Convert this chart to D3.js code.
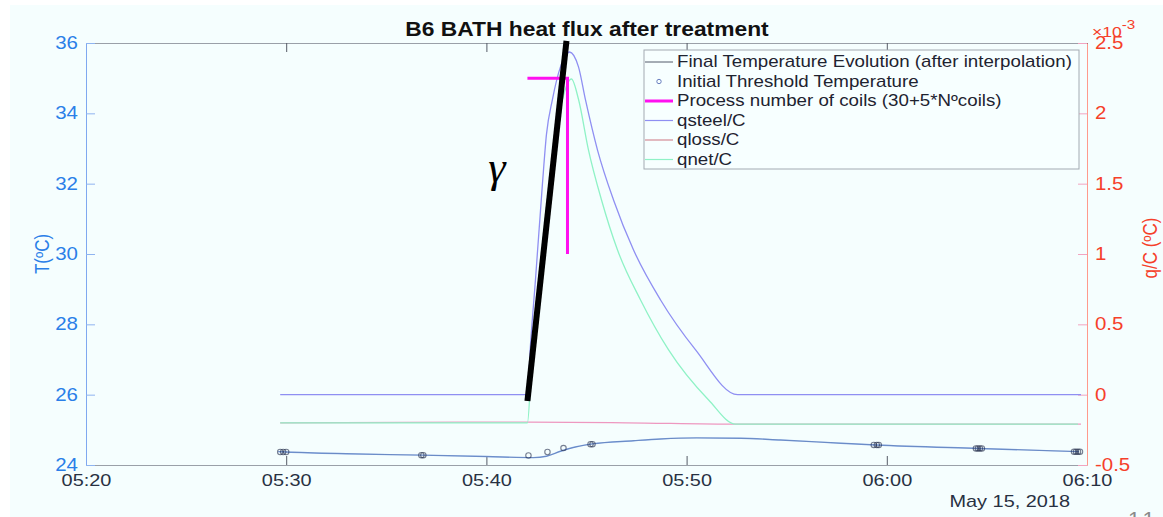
<!DOCTYPE html>
<html>
<head>
<meta charset="utf-8">
<script src="https://cdn.jsdelivr.net/npm/d3@7"></script>
<style>
  html, body { margin: 0; padding: 0; background: #f5fefe; }
  svg { display: block; font-family: "Liberation Sans", Arial, Helvetica, sans-serif; }
</style>
</head>
<body>
<svg id="chart" width="1163" height="517"></svg>
<script>
// ---- data -------------------------------------------------------------
const xTickLabels = ["05:20", "05:30", "05:40", "05:50", "06:00", "06:10"];
const leftTicks = [24, 26, 28, 30, 32, 34, 36];
const rightTicks = [-0.5, 0, 0.5, 1, 1.5, 2, 2.5];
const rightTickLabels = ["-0.5", "0", "0.5", "1", "1.5", "2", "2.5"];

// Final temperature evolution (°C)
const tempTimes = ["05:29:36", "05:30:00", "05:33:00", "05:36:48", "05:40:00", "05:42:21", "05:43:00",
  "05:43:42", "05:44:30", "05:45:18", "05:47:21", "05:48:42", "05:50:30", "05:52:42", "05:54:42",
  "05:57:42", "05:59:27", "06:04:36", "06:09:36"];
const tempValues = [24.38, 24.37, 24.32, 24.28, 24.24, 24.21, 24.25, 24.39, 24.52, 24.6, 24.69,
  24.74, 24.77, 24.76, 24.71, 24.62, 24.57, 24.47, 24.38];

// Initial threshold temperature samples (°C)
const thresholdTimes = ["05:29:42", "05:29:51", "05:30:00", "05:36:45", "05:36:51", "05:42:06",
  "05:43:03", "05:43:51", "05:45:12", "05:45:18", "05:59:21", "05:59:30", "05:59:36",
  "06:04:27", "06:04:33", "06:04:39", "06:04:45", "06:09:21", "06:09:27", "06:09:33", "06:09:39"];
const thresholdValues = [24.37, 24.37, 24.37, 24.28, 24.28, 24.27, 24.37, 24.48, 24.59, 24.59,
  24.57, 24.57, 24.57, 24.47, 24.47, 24.47, 24.47, 24.38, 24.38, 24.38, 24.38];

// Process number of coils (30 + 5*Nºcoils)
const coilTimes = ["05:42:03", "05:44:03", "05:44:03"];
const coilValues = [35, 35, 30];

// Heat flux over heat capacity (x10^-3 °C)
const qsteelTimes = ["05:29:42", "05:42:03", "05:42:12", "05:42:27", "05:42:48", "05:43:00", "05:43:18",
  "05:43:42", "05:44:09", "05:44:36", "05:44:57", "05:45:33", "05:46:21", "05:47:21", "05:48:42",
  "05:50:27", "05:52:33", "06:09:42"];
const qsteelValues = [0, 0, 0.35, 0.815, 1.5, 1.85, 2.1, 2.33, 2.436, 2.33, 2.095, 1.739, 1.384,
  1.028, 0.673, 0.318, 0, 0];

const qlossTimes = ["05:29:42", "05:42:03", "05:47:00", "05:52:33", "06:09:42"];
const qlossValues = [-0.2, -0.195, -0.2, -0.21, -0.21];

const qnetTimes = ["05:29:42", "05:42:03", "05:42:15", "05:42:30", "05:42:48", "05:43:21", "05:43:48",
  "05:44:15", "05:44:36", "05:45:06", "05:45:45", "05:46:33", "05:47:42", "05:49:06", "05:51:06",
  "05:52:27", "06:09:33"];
const qnetValues = [-0.2, -0.2, 0.2, 0.6, 1.05, 1.74, 2.1, 2.244, 2.1, 1.739, 1.384, 1.028, 0.673,
  0.318, -0.038, -0.21, -0.21];

// Hand-drawn slope marker (on the temperature scale)
const slopeTimes = ["05:42:03", "05:44:00"];
const slopeValues = [25.82, 36.06];

const legendLabels = [
  "Final Temperature Evolution (after interpolation)",
  "Initial Threshold Temperature",
  "Process number of coils (30+5*N\u00bacoils)",
  "qsteel/C",
  "qloss/C",
  "qnet/C"
];

// ---- setup ------------------------------------------------------------
const parseTime = d3.timeParse("%H:%M:%S");
const parseTick = d3.timeParse("%H:%M");
const zip = (ts, vs) => ts.map((t, i) => ({ t: parseTime(t), v: vs[i] }));

const colors = {
  temp: "#7aa0e2",
  tempDark: "#3a4766",
  threshold: "#1f2a48",
  coils: "#ff10f0",
  qsteel: "#8f8ff2",
  qloss: "#ee98c0",
  qnet: "#8ff2c6",
  leftAxis: "#2a7fe8",
  rightAxis: "#f5402a",
  frame: "#9aa0a8",
  text: "#283142"
};

const STRETCH = 1.17;
function widen(sel) {
  sel.each(function () {
    const t = d3.select(this);
    const x = +t.attr("x") || 0;
    t.attr("transform", `translate(${x * (1 - STRETCH)},0) scale(${STRETCH},1)`);
  });
}

const svg = d3.select("#chart");
const L = 86, R = 1087, T = 43, B = 465;

const x = d3.scaleTime()
  .domain([parseTick(xTickLabels[0]), parseTick(xTickLabels[xTickLabels.length - 1])])
  .range([L, R]);
const yT = d3.scaleLinear().domain([24, 36]).range([B, T]);
const yQ = d3.scaleLinear().domain([-0.5, 2.5]).range([B, T]);

// white margin strips at the edges of the figure
svg.append("rect").attr("x", 0).attr("y", 0).attr("width", 1163).attr("height", 5).attr("fill", "#ffffff");
svg.append("rect").attr("x", 0).attr("y", 0).attr("width", 10).attr("height", 517).attr("fill", "#ffffff");

// ---- axes -------------------------------------------------------------
const xTickValues = xTickLabels.map(parseTick);

const gBottom = svg.append("g").attr("transform", `translate(0,${B})`)
  .call(d3.axisBottom(x).tickValues(xTickValues).tickFormat(d3.timeFormat("%H:%M"))
    .tickSize(-9).tickSizeOuter(0).tickPadding(9));
gBottom.attr("font-family", null);
gBottom.select(".domain").attr("stroke", colors.frame);
gBottom.selectAll(".tick line").attr("stroke", "#555b66");
gBottom.selectAll(".tick text").attr("fill", colors.text).attr("font-size", 17).call(widen);

const gTop = svg.append("g").attr("transform", `translate(0,${T})`)
  .call(d3.axisTop(x).tickValues(xTickValues).tickFormat("").tickSize(-9).tickSizeOuter(0));
gTop.select(".domain").attr("stroke", colors.frame);
gTop.selectAll(".tick line").attr("stroke", "#555b66");

const gLeft = svg.append("g").attr("transform", `translate(${L},0)`)
  .call(d3.axisLeft(yT).tickValues(leftTicks).tickSize(-9).tickSizeOuter(0).tickPadding(8));
gLeft.attr("font-family", null);
gLeft.select(".domain").attr("stroke", "#7fa8f0");
gLeft.selectAll(".tick line").attr("stroke", "#8fb4f0");
gLeft.selectAll(".tick text").attr("fill", colors.leftAxis).attr("font-size", 17.5).call(widen);

const gRight = svg.append("g").attr("transform", `translate(${R},0)`)
  .call(d3.axisRight(yQ).tickValues(rightTicks).tickFormat((d, i) => rightTickLabels[i])
    .tickSize(-9).tickSizeOuter(0).tickPadding(8));
gRight.attr("font-family", null);
gRight.select(".domain").attr("stroke", "#ff9a8c");
gRight.selectAll(".tick line").attr("stroke", "#f2a4c0");
gRight.selectAll(".tick text").attr("fill", colors.rightAxis).attr("font-size", 17.5).call(widen);

// exponent marker of the right axis
const expo = svg.append("text").attr("x", 1092).attr("y", 37)
  .attr("fill", colors.rightAxis).attr("font-size", 15);
expo.append("tspan").text("\u00d710");
expo.append("tspan").attr("dy", -8).attr("font-size", 13).text("-3");
expo.call(widen);

// axis titles
svg.append("text")
  .attr("transform", `translate(49,254) scale(${STRETCH},1) rotate(-90)`)
  .attr("text-anchor", "middle").attr("fill", colors.leftAxis).attr("font-size", 17)
  .text("T(\u00baC)");
svg.append("text")
  .attr("transform", `translate(1157,248) scale(${STRETCH},1) rotate(-90)`)
  .attr("text-anchor", "middle").attr("fill", colors.rightAxis).attr("font-size", 17)
  .text("q/C (\u00baC)");

// title and date
svg.append("text").attr("x", 587).attr("y", 36).attr("text-anchor", "middle")
  .attr("font-weight", "bold").attr("font-size", 19.5).attr("fill", "#111")
  .text("B6 BATH heat flux after treatment").call(widen);
svg.append("text").attr("x", 1070).attr("y", 507).attr("text-anchor", "end")
  .attr("font-size", 17).attr("fill", colors.text)
  .text("May 15, 2018").call(widen);

// page number at the bottom edge
svg.append("text").attr("x", 1128).attr("y", 527).attr("font-size", 22)
  .attr("letter-spacing", 4).attr("fill", "#8a8a8a").text("11");

// ---- series -----------------------------------------------------------
const lineQ = d3.line().x(d => x(d.t)).y(d => yQ(d.v)).curve(d3.curveMonotoneX);
const lineT = d3.line().x(d => x(d.t)).y(d => yT(d.v)).curve(d3.curveMonotoneX);

svg.append("path").datum(zip(qsteelTimes, qsteelValues))
  .attr("d", lineQ).attr("fill", "none").attr("stroke", colors.qsteel).attr("stroke-width", 1.3);
svg.append("path").datum(zip(qlossTimes, qlossValues))
  .attr("d", lineQ).attr("fill", "none").attr("stroke", colors.qloss).attr("stroke-width", 1.3);
svg.append("path").datum(zip(qnetTimes, qnetValues))
  .attr("d", lineQ).attr("fill", "none").attr("stroke", colors.qnet).attr("stroke-width", 1.3);

svg.append("path").datum(zip(tempTimes, tempValues))
  .attr("d", lineT).attr("fill", "none").attr("stroke", colors.temp).attr("stroke-width", 1.4);
svg.append("path").datum(zip(tempTimes, tempValues))
  .attr("d", lineT).attr("fill", "none").attr("stroke", colors.tempDark)
  .attr("stroke-width", 0.5).attr("stroke-opacity", 0.5);

svg.append("g").selectAll("circle").data(zip(thresholdTimes, thresholdValues)).join("circle")
  .attr("cx", d => x(d.t)).attr("cy", d => yT(d.v)).attr("r", 2.7)
  .attr("fill", "none").attr("stroke", colors.threshold).attr("stroke-width", 1.1)
  .attr("stroke-opacity", 0.6);

svg.append("path").datum(zip(coilTimes, coilValues))
  .attr("d", d3.line().x(d => x(d.t)).y(d => yT(d.v)))
  .attr("fill", "none").attr("stroke", colors.coils).attr("stroke-width", 3);

// ---- legend -----------------------------------------------------------
const legend = svg.append("g");
legend.append("rect").attr("x", 644).attr("y", 50).attr("width", 435).attr("height", 119)
  .attr("fill", "#f7ffff").attr("stroke", "#a3aab2").attr("stroke-width", 1);
const rowY = i => 62 + i * 19.5;
const sample = [
  { type: "line", color: "#525a6a", w: 1 },
  { type: "dot", color: "#6a7fc0" },
  { type: "line", color: colors.coils, w: 3 },
  { type: "line", color: colors.qsteel, w: 1.2 },
  { type: "line", color: "#d48c96", w: 1.2 },
  { type: "line", color: colors.qnet, w: 1.2 }
];
legendLabels.forEach((label, i) => {
  const s = sample[i];
  if (s.type === "line") {
    legend.append("line").attr("x1", 645).attr("x2", 673).attr("y1", rowY(i)).attr("y2", rowY(i))
      .attr("stroke", s.color).attr("stroke-width", s.w);
  } else {
    legend.append("circle").attr("cx", 659).attr("cy", rowY(i)).attr("r", 2.2)
      .attr("fill", "none").attr("stroke", s.color).attr("stroke-width", 1);
  }
  legend.append("text").attr("x", 677).attr("y", rowY(i) + 5.5).attr("font-size", 16)
    .attr("fill", "#1e2330").text(label).call(widen);
});

// ---- slope annotation -------------------------------------------------
const slope = zip(slopeTimes, slopeValues);
svg.append("line")
  .attr("x1", x(slope[0].t)).attr("y1", yT(slope[0].v))
  .attr("x2", x(slope[1].t)).attr("y2", yT(slope[1].v))
  .attr("stroke", "#000").attr("stroke-width", 6);
svg.append("text").attr("x", 497).attr("y", 182).attr("text-anchor", "middle")
  .attr("font-family", "'Liberation Serif', 'DejaVu Serif', serif").attr("font-style", "italic")
  .attr("font-size", 44).attr("fill", "#000").text("\u03b3");
</script>
</body>
</html>
